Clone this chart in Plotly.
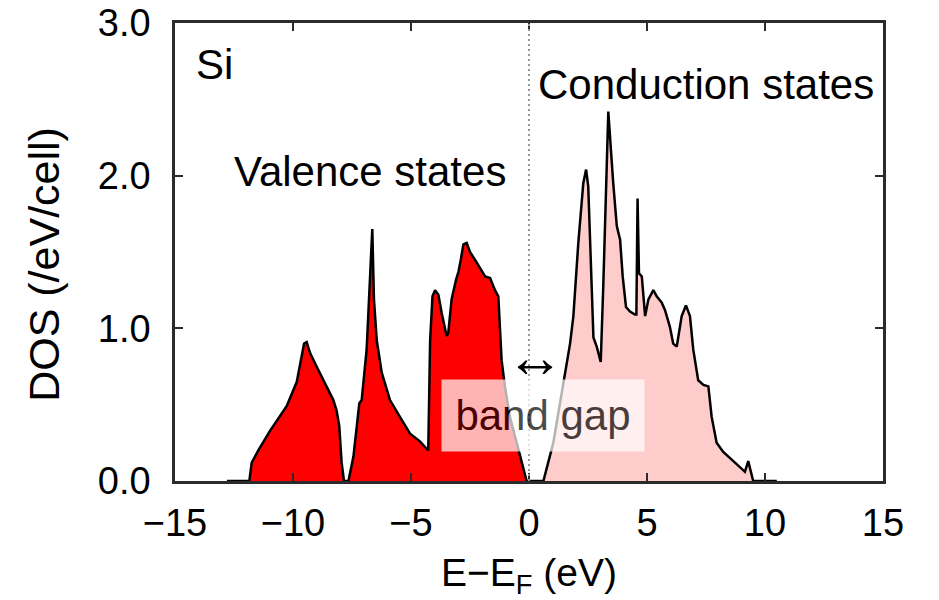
import plotly.graph_objects as go

# Density of states of Si, split at the Fermi level (E - E_F = 0)
valence_energy = [-12.8, -11.85, -11.75, -11.47, -10.97, -10.27, -9.84, -9.63, -9.53, -9.42,
                  -9.28, -9.0, -8.64, -8.29, -8.15, -8.04, -7.94, -7.84, -7.65, -7.44,
                  -7.19, -7.09, -6.88, -6.74, -6.64, -6.57, -6.45, -6.24, -5.89, -5.47,
                  -5.04, -4.62, -4.27, -4.19, -4.09, -3.98, -3.84, -3.70, -3.49, -3.42,
                  -3.28, -3.09, -2.99, -2.89, -2.78, -2.64, -2.50, -2.29, -2.08, -1.86,
                  -1.65, -1.44, -1.30, -1.16, -1.02, -0.81, -0.52, -0.24, -0.10, 0.0]
valence_dos = [0.0, 0.0, 0.12, 0.20, 0.33, 0.49, 0.65, 0.81, 0.90, 0.91,
               0.84, 0.75, 0.64, 0.53, 0.46, 0.36, 0.12, 0.0, 0.0, 0.16,
               0.51, 0.53, 0.86, 1.29, 1.65, 1.19, 0.92, 0.71, 0.53, 0.42,
               0.31, 0.26, 0.20, 0.92, 1.21, 1.25, 1.22, 1.10, 0.95, 0.97,
               1.19, 1.32, 1.37, 1.45, 1.55, 1.56, 1.50, 1.45, 1.40, 1.34,
               1.33, 1.25, 1.21, 0.79, 0.62, 0.42, 0.25, 0.09, 0.0, 0.0]

conduction_energy = [0.0, 0.61, 1.03, 1.45, 1.74, 1.88, 2.09, 2.30, 2.42, 2.51,
                     2.66, 2.73, 2.87, 3.04, 3.15, 3.26, 3.36, 3.57, 3.72, 3.86,
                     3.97, 4.11, 4.28, 4.49, 4.55, 4.60, 4.66, 4.78, 4.92, 5.06,
                     5.27, 5.41, 5.62, 5.76, 5.97, 6.11, 6.26, 6.47, 6.65, 6.82,
                     6.96, 7.17, 7.39, 7.60, 7.74, 7.95, 8.23, 8.66, 9.15, 9.29,
                     9.39, 9.50, 10.5]
conduction_dos = [0.0, 0.0, 0.25, 0.64, 0.90, 1.08, 1.56, 1.95, 2.04, 1.93,
                  1.29, 0.94, 0.88, 0.78, 1.29, 1.95, 2.42, 1.95, 1.67, 1.58,
                  1.34, 1.14, 1.11, 1.09, 1.09, 1.85, 1.36, 1.34, 1.08, 1.19,
                  1.25, 1.21, 1.17, 1.12, 1.01, 0.90, 0.88, 1.08, 1.15, 1.08,
                  0.86, 0.66, 0.63, 0.62, 0.42, 0.25, 0.19, 0.13, 0.06, 0.13,
                  0.06, 0.0, 0.0]

x_ticks = [-15, -10, -5, 0, 5, 10, 15]
y_ticks = [0.0, 1.0, 2.0, 3.0]

FONT = "Liberation Sans, Arial, Helvetica, sans-serif"
AXIS_COLOR = "#2b2b2b"

fig = go.Figure()

fig.add_trace(go.Scatter(
    x=valence_energy, y=valence_dos, mode="lines", fill="tozeroy",
    fillcolor="#ff0000", line=dict(color="black", width=2.5),
    name="Valence states", hoverinfo="x+y",
))
fig.add_trace(go.Scatter(
    x=conduction_energy, y=conduction_dos, mode="lines", fill="tozeroy",
    fillcolor="#ffcccc", line=dict(color="black", width=2.5),
    name="Conduction states", hoverinfo="x+y",
))

# Fermi level marker
fig.add_shape(type="line", xref="x", yref="paper", x0=0, x1=0, y0=0, y1=1,
              line=dict(color="#9a9a9a", width=2, dash="2px,3px"), layer="above")

axis_common = dict(
    showline=True, linewidth=2.5, linecolor=AXIS_COLOR, mirror="ticks",
    ticks="inside", ticklen=8, tickwidth=1.5, tickcolor=AXIS_COLOR,
    showgrid=False, zeroline=False, automargin=False,
    tickfont=dict(family=FONT, size=38, color="black"),
)

fig.update_xaxes(
    range=[-15, 15], tickvals=x_ticks, ticklabelstandoff=7,
    title=dict(text="E\u2212E<sub>F</sub> (eV)", font=dict(family=FONT, size=39, color="black"),
               standoff=16),
    **axis_common,
)
fig.update_yaxes(
    range=[0, 3], tickvals=y_ticks, tickformat=".1f", ticklabelstandoff=14,
    **axis_common,
)

text_font = dict(family=FONT, size=42, color="black")
fig.add_annotation(x=-0.185, y=0.472, xref="paper", yref="paper", text="DOS (/eV/cell)",
                   textangle=-90, xanchor="center", yanchor="middle", showarrow=False,
                   font=dict(family=FONT, size=43, color="black"))
fig.add_annotation(x=-14.2, y=2.73, xref="x", yref="y", text="Si", xanchor="left",
                   showarrow=False, font=dict(family=FONT, size=42, color="black"))
fig.add_annotation(x=-12.6, y=2.03, xref="x", yref="y", text="Valence states", xanchor="left",
                   showarrow=False, font=text_font)
fig.add_annotation(x=0.3, y=2.6, xref="x", yref="y", text="Conduction states", xanchor="left",
                   showarrow=False, font=text_font)
fig.add_annotation(x=0.25, y=0.815, xref="x", yref="y", text="\u2194",
                   showarrow=False, font=dict(family=FONT, size=58, color="black"))
fig.add_annotation(x=0.59, y=0.43, xref="x", yref="y", text="band gap",
                   showarrow=False, font=text_font, bgcolor="white", opacity=0.7,
                   width=200, height=69)

fig.update_layout(
    width=939, height=600,
    margin=dict(l=175, r=56, t=23, b=119),
    paper_bgcolor="white", plot_bgcolor="white",
    showlegend=False,
    font=dict(family=FONT, color="black"),
)

fig.write_html("out.html")
